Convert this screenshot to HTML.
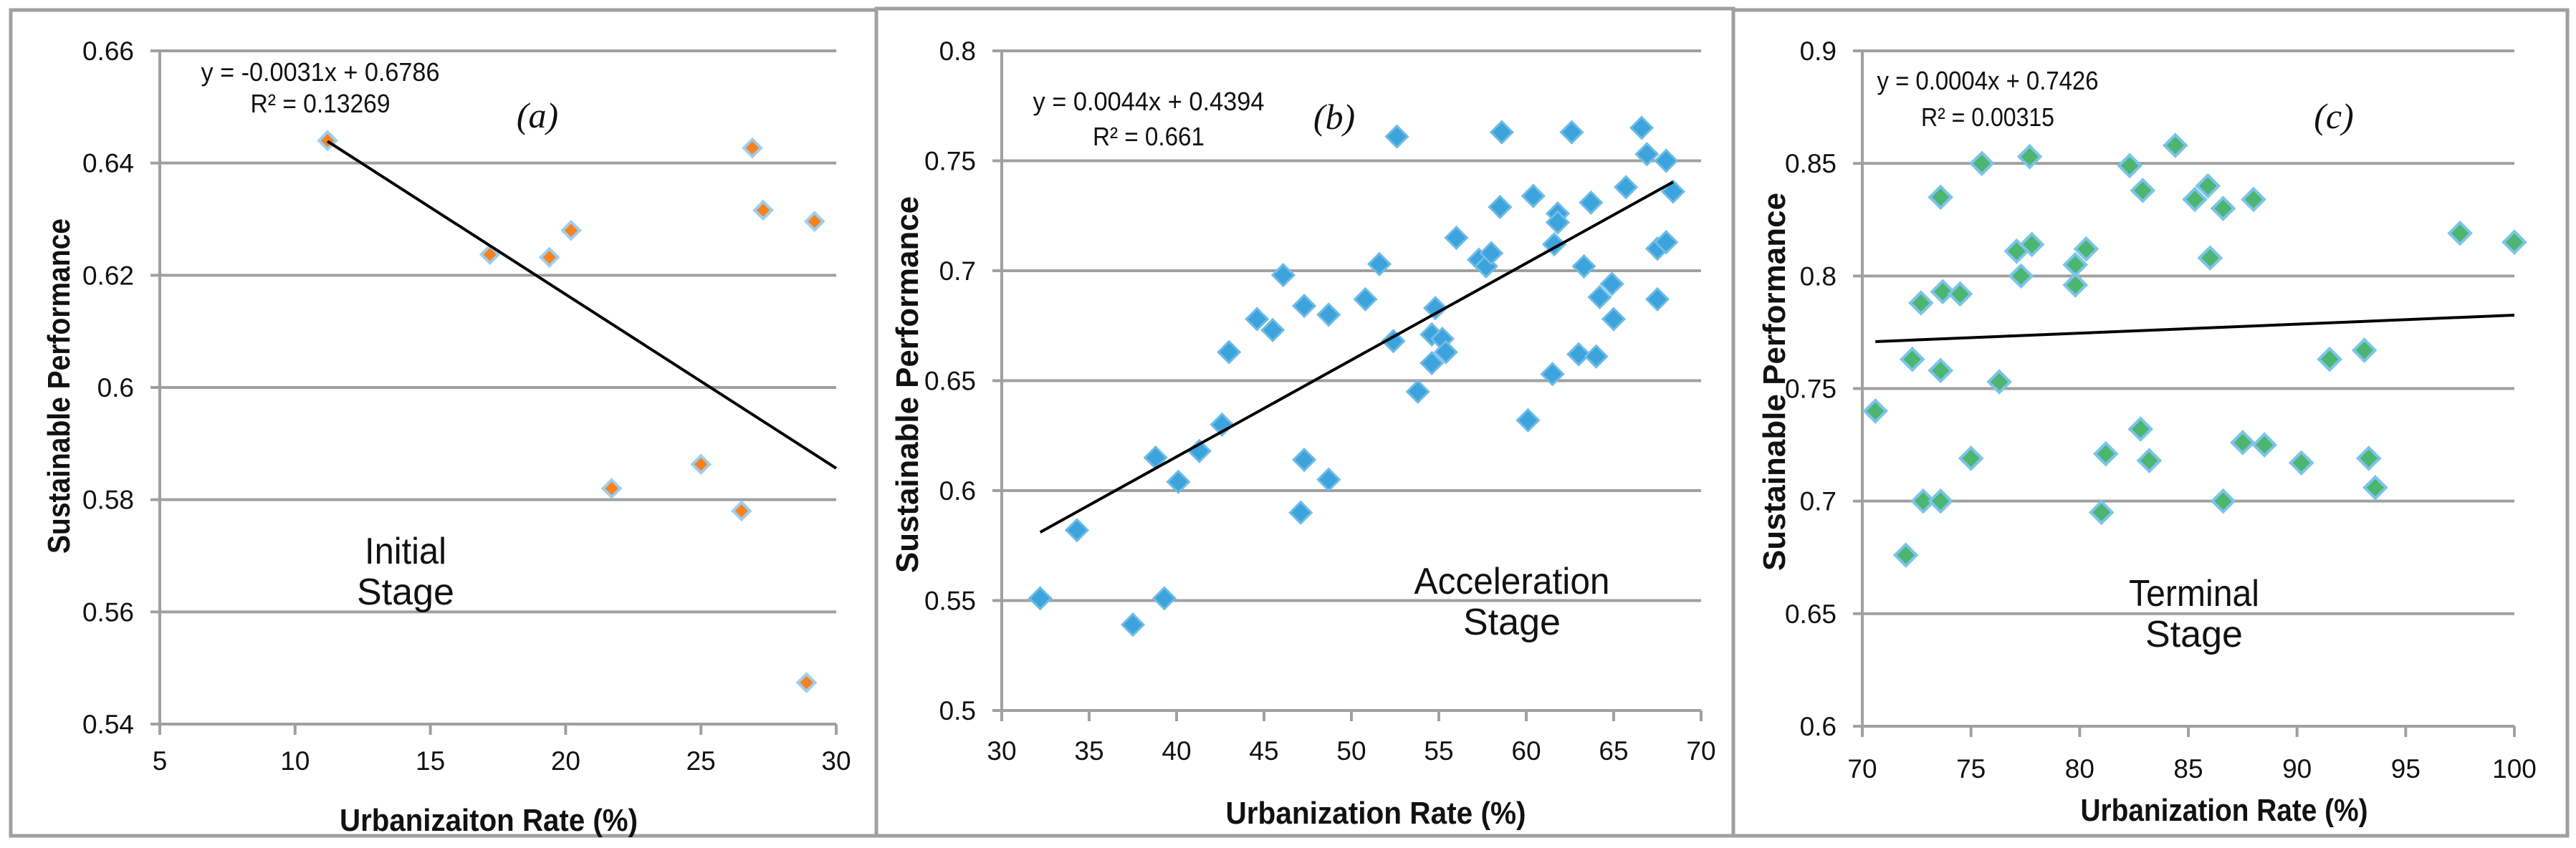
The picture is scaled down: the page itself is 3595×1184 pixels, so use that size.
<!DOCTYPE html>
<html><head><meta charset="utf-8"><style>
html,body{margin:0;padding:0;background:#fff;}
svg{display:block;font-family:"Liberation Sans",sans-serif;}
</style></head><body>
<svg id="chart" width="3595" height="1184" viewBox="0 0 3595 1184" xmlns="http://www.w3.org/2000/svg">
<rect x="0" y="0" width="3595" height="1184" fill="#fff"/>
<rect x="15" y="14" width="1208" height="1153" fill="none" stroke="#a0a0a0" stroke-width="5"/>
<rect x="1223" y="12" width="1196" height="1155" fill="none" stroke="#a0a0a0" stroke-width="5"/>
<rect x="2419" y="14" width="1164" height="1153" fill="none" stroke="#a0a0a0" stroke-width="5"/>
</svg>
<script>
const aX=[11.2,17.2,19.4,20.2,26.9,27.3,29.2,21.7,25.0,26.5,28.9];
const aY=[0.644,0.6237,0.6232,0.628,0.6427,0.6316,0.6296,0.582,0.5863,0.578,0.5474];
const bX=[32.2,34.3,37.5,39.3,38.8,40.1,41.3,42.6,43.0,44.6,45.5,46.1,47.1,47.3,47.3,48.7,48.7,50.8,51.6,52.4,52.6,53.8,54.6,54.6,54.8,55.2,55.4,56.0,57.3,57.7,58.0,58.5,58.6,60.1,60.4,61.5,61.6,61.8,61.8,62.6,63.0,63.3,63.7,64.0,64.2,64.9,65.0,65.7,66.6,66.9,67.5,67.5,68.0,68.0,68.4];
const bY=[0.551,0.582,0.539,0.551,0.615,0.604,0.618,0.630,0.663,0.678,0.673,0.698,0.590,0.614,0.684,0.605,0.680,0.687,0.703,0.668,0.761,0.645,0.658,0.671,0.683,0.669,0.663,0.715,0.705,0.702,0.708,0.729,0.763,0.632,0.734,0.653,0.712,0.726,0.722,0.763,0.662,0.702,0.731,0.661,0.688,0.694,0.678,0.738,0.765,0.753,0.710,0.687,0.713,0.750,0.736];
const cX=[70.6,72.0,72.3,72.7,72.8,73.6,73.6,73.6,73.7,74.5,75.0,75.5,76.3,77.1,77.3,77.7,77.8,79.8,79.8,80.3,81.0,81.2,82.3,82.8,82.9,83.2,84.4,85.3,85.9,86.0,86.6,86.6,87.5,88.0,88.5,90.2,91.5,93.1,93.3,93.6,97.5,100.0];
const cY=[0.740,0.676,0.763,0.788,0.700,0.835,0.758,0.700,0.793,0.792,0.719,0.850,0.753,0.811,0.800,0.853,0.814,0.805,0.796,0.812,0.695,0.721,0.849,0.732,0.838,0.718,0.858,0.834,0.840,0.808,0.700,0.830,0.726,0.834,0.725,0.717,0.763,0.767,0.719,0.706,0.819,0.815];
const aYTicks=[0.54,0.56,0.58,0.6,0.62,0.64,0.66];
const aYLabels=["0.54","0.56","0.58","0.6","0.62","0.64","0.66"];
const aXTicks=[5,10,15,20,25,30];
const bYTicks=[0.5,0.55,0.6,0.65,0.7,0.75,0.8];
const bYLabels=["0.5","0.55","0.6","0.65","0.7","0.75","0.8"];
const bXTicks=[30,35,40,45,50,55,60,65,70];
const cYTicks=[0.6,0.65,0.7,0.75,0.8,0.85,0.9];
const cYLabels=["0.6","0.65","0.7","0.75","0.8","0.85","0.9"];
const cXTicks=[70,75,80,85,90,95,100];
const aFit=[-0.0031,0.6786,11.2,30];
const bFit=[0.0044,0.4394,32.2,68.4];
const cFit=[0.0004,0.7426,70.6,100];

const NS="http://www.w3.org/2000/svg";
const svg=document.getElementById('chart');
function mk(tag,attrs,parent){const e=document.createElementNS(NS,tag);for(const k in attrs)e.setAttribute(k,attrs[k]);(parent||svg).appendChild(e);return e;}

function panel(p){
  const g=mk('g',{});
  
  
  const sx=v=>p.x0+(v-p.xmin)/(p.xmax-p.xmin)*(p.x1-p.x0);
  const sy=v=>p.y0-(v-p.ymin)/(p.ymax-p.ymin)*(p.y0-p.y1);
  p.yTicks.forEach((t,i)=>{
    const y=sy(t);
    if(i>0){const gl=mk('line',{x1:p.x0,x2:p.x1,y1:y,y2:y,stroke:'#a0a0a0','stroke-width':4},g);
      
      }
    const tk=mk('line',{x1:p.x0-13,x2:p.x0,y1:y,y2:y,stroke:'#a0a0a0','stroke-width':4},g);
    
    
    const tl=mk('text',{x:p.x0-36,y:y+13,'text-anchor':'end','font-size':37,fill:'#111'},g);
    tl.textContent=p.yLabels[i];
    
    
  });
  p.xTicks.forEach(t=>{
    const x=sx(t);
    const tk=mk('line',{x1:x,x2:x,y1:p.y0,y2:p.y0+15,stroke:'#a0a0a0','stroke-width':4},g);
    
    
    const tl=mk('text',{x:x,y:p.y0+p.xlOff,'text-anchor':'middle','font-size':37,fill:'#111'},g);
    tl.textContent=String(t);
    
    
  });
  const ya=mk('line',{x1:p.x0,x2:p.x0,y1:p.y1,y2:p.y0+15,stroke:'#a0a0a0','stroke-width':4},g);
  
  
  const xa=mk('line',{x1:p.x0-13,x2:p.x1,y1:p.y0,y2:p.y0,stroke:'#a0a0a0','stroke-width':4},g);
  
  
  p.xs.forEach((v,i)=>{
    const cx=sx(v),cy=sy(p.ys[i]),r=p.r;
    const d=mk('path',{d:`M${cx},${cy-r}L${cx+r},${cy}L${cx},${cy+r}L${cx-r},${cy}Z`,fill:p.fill,stroke:p.stroke,'stroke-width':p.sw},g);
    
    
  });
  const f=p.fit;
  const tr=mk('line',{x1:sx(f[2]),y1:sy(f[0]*f[2]+f[1]),x2:sx(f[3]),y2:sy(f[0]*f[3]+f[1]),stroke:'#000','stroke-width':4},g);
  
  
  const txt=(s,x,y,attrs,name)=>{const t=mk('text',Object.assign({x:x,y:y,'text-anchor':'middle',fill:'#111'},attrs),g);t.textContent=s;return t;};
  txt(p.xTitle,p.xtX,p.xtY,{'font-size':44,'font-weight':'bold',textLength:p.xtW,lengthAdjust:'spacingAndGlyphs'},'x-axis-title');
  txt('Sustainable Performance',0,0,{'font-size':44,'font-weight':'bold',textLength:p.ytW,lengthAdjust:'spacingAndGlyphs',transform:`translate(${p.ytX},${p.ytY}) rotate(-90)`},'y-axis-title');
  txt(p.eq1,p.eqX,p.eq1Y,{'font-size':36,textLength:p.eq1W,lengthAdjust:'spacingAndGlyphs'},'equation-label');
  txt(p.eq2,p.eqX,p.eq2Y,{'font-size':36,textLength:p.eq2W,lengthAdjust:'spacingAndGlyphs'},'r-squared-label');
  txt(p.tag,p.tagX,p.tagY,{'font-size':50,'font-family':'"Liberation Serif",serif','font-style':'italic'},'panel-tag');
  txt(p.st1,p.stX,p.st1Y,{'font-size':52,textLength:p.st1W,lengthAdjust:'spacingAndGlyphs'},'stage-label');
  txt('Stage',p.stX,p.st2Y,{'font-size':52},'stage-label-2');
}

panel({id:'a',x0:223,x1:1167,y0:1011,y1:71,xmin:5,xmax:30,ymin:0.54,ymax:0.66,yTicks:aYTicks,yLabels:aYLabels,xTicks:aXTicks,xlOff:64,
  xs:aX,ys:aY,r:12,fill:'#f6821f',stroke:'#9fcdee',sw:4,fit:aFit,
  xTitle:'Urbanizaiton Rate (%)',xtX:682,xtY:1160,xtW:416,ytX:97,ytY:539,ytW:468,
  eq1:'y = -0.0031x + 0.6786',eq2:'R² = 0.13269',eqX:447,eq1Y:113,eq2Y:157,eq1W:333,eq2W:195,
  tag:'(a)',tagX:750,tagY:178,st1:'Initial',stX:566,st1Y:787,st2Y:844,st1W:114});
panel({id:'b',x0:1398,x1:2374,y0:992,y1:71,xmin:30,xmax:70,ymin:0.5,ymax:0.8,yTicks:bYTicks,yLabels:bYLabels,xTicks:bXTicks,xlOff:69,
  xs:bX,ys:bY,r:15,fill:'#3ca3dc',stroke:'#6fbce6',sw:3,fit:bFit,
  xTitle:'Urbanization Rate (%)',xtX:1920,xtY:1150,xtW:419,ytX:1281,ytY:537,ytW:526,
  eq1:'y = 0.0044x + 0.4394',eq2:'R² = 0.661',eqX:1603,eq1Y:154,eq2Y:203,eq1W:323,eq2W:156,
  tag:'(b)',tagX:1862,tagY:180,st1:'Acceleration',stX:2110,st1Y:829,st2Y:886,st1W:273});
panel({id:'c',x0:2599,x1:3509,y0:1014,y1:71,xmin:70,xmax:100,ymin:0.6,ymax:0.9,yTicks:cYTicks,yLabels:cYLabels,xTicks:cXTicks,xlOff:72,
  xs:cX,ys:cY,r:15,fill:'#4cb56f',stroke:'#7cc4ea',sw:4,fit:cFit,
  xTitle:'Urbanization Rate (%)',xtX:3104,xtY:1146,xtW:401,ytX:2491,ytY:533,ytW:528,
  eq1:'y = 0.0004x + 0.7426',eq2:'R² = 0.00315',eqX:2774,eq1Y:125,eq2Y:176,eq1W:309,eq2W:186,
  tag:'(c)',tagX:3257,tagY:179,st1:'Terminal',stX:3062,st1Y:846,st2Y:903,st1W:182});
</script>
</body></html>
